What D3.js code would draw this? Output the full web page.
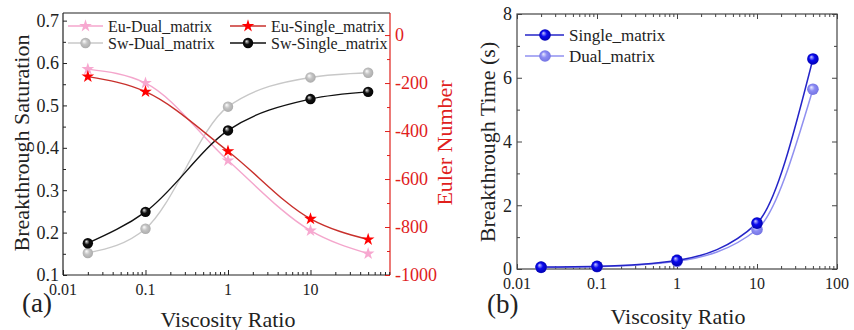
<!DOCTYPE html>
<html>
<head>
<meta charset="utf-8">
<script src="https://cdn.jsdelivr.net/npm/d3@7/dist/d3.min.js"></script>
<style>
html,body{margin:0;padding:0;background:#fff;}
svg{display:block;font-family:"Liberation Serif","Times New Roman",serif;}
</style>
</head>
<body>
<svg id="chart" width="854" height="330"></svg>
<script>
// ---------------- data ----------------
const viscosityRatio = [0.02, 0.1, 1, 10, 50];
const euDual   = [-142, -200, -523, -815, -911];
const euSingle = [-173, -236, -484, -766, -852];
const swDual   = [0.152, 0.209, 0.497, 0.566, 0.577];
const swSingle = [0.175, 0.249, 0.441, 0.515, 0.532];
const timeSingle = [0.06, 0.085, 0.27, 1.44, 6.59];
const timeDual   = [0.05, 0.07, 0.24, 1.24, 5.64];

const xTicksA = [0.01, 0.1, 1, 10];
const xTickLabelsA = ["0.01", "0.1", "1", "10"];
const xTicksB = [0.01, 0.1, 1, 10, 100];
const xTickLabelsB = ["0.01", "0.1", "1", "10", "100"];
const satTicks = [0.1, 0.2, 0.3, 0.4, 0.5, 0.6, 0.7];
const eulerTicks = [-1000, -800, -600, -400, -200, 0];
const timeTicks = [0, 2, 4, 6, 8];

const svg = d3.select("#chart");
const defs = svg.append("defs");

function sphere(id, hi, mid, lo) {
  const g = defs.append("radialGradient").attr("id", id)
    .attr("cx", "50%").attr("cy", "50%").attr("r", "55%")
    .attr("fx", "35%").attr("fy", "32%");
  g.append("stop").attr("offset", "0%").attr("stop-color", hi);
  g.append("stop").attr("offset", "45%").attr("stop-color", mid);
  g.append("stop").attr("offset", "100%").attr("stop-color", lo);
}
sphere("gBlack", "#e8e8e8", "#111", "#000");
sphere("gGray", "#ffffff", "#c4c4c4", "#a8a8a8");
sphere("gBlue", "#c8c8ff", "#0a0aee", "#0000a8");
sphere("gLBlue", "#eeeeff", "#8c8cf4", "#7070e0");

const minorLog = (lo, hi) => {
  const out = [];
  for (let e = Math.floor(Math.log10(lo)); e <= Math.ceil(Math.log10(hi)); e++)
    for (let m = 2; m <= 9; m++) { const v = m * Math.pow(10, e); if (v > lo && v < hi) out.push(v); }
  return out;
};

// =============== Panel (a) ===============
const A = {l: 63, r: 390, t: 13, b: 275};
const xA = d3.scaleLog().domain([0.01, 92]).range([A.l, A.r]);
const ySat = d3.scaleLinear().domain([0.1, 0.718]).range([A.b, A.t]);
const yEu = d3.scaleLinear().domain([-1000, 92]).range([A.b, A.t]);
const red = "#e0201c";
const axisCol = "#222";

const ga = svg.append("g");
// frame
ga.append("line").attr("x1", A.l).attr("x2", A.r).attr("y1", A.t).attr("y2", A.t).attr("stroke", axisCol).attr("stroke-width", 1.2);
ga.append("line").attr("x1", A.l).attr("x2", A.l).attr("y1", A.t).attr("y2", A.b).attr("stroke", axisCol).attr("stroke-width", 1.2);
ga.append("line").attr("x1", A.l).attr("x2", A.r).attr("y1", A.b).attr("y2", A.b).attr("stroke", axisCol).attr("stroke-width", 1.2);
ga.append("line").attr("x1", A.r).attr("x2", A.r).attr("y1", A.t).attr("y2", A.b).attr("stroke", red).attr("stroke-width", 1.2);

// bottom axis (inward ticks)
const axBA = d3.axisTop(xA).tickValues(xTicksA).tickFormat("").tickSize(5).tickSizeOuter(0);
const gba = ga.append("g").attr("transform", `translate(0,${A.b})`).call(axBA);
gba.select(".domain").remove();
gba.selectAll("line").attr("stroke", axisCol);
const axBAm = d3.axisTop(xA).tickValues(minorLog(0.01, 92)).tickFormat("").tickSize(3).tickSizeOuter(0);
const gbam = ga.append("g").attr("transform", `translate(0,${A.b})`).call(axBAm);
gbam.select(".domain").remove();
gbam.selectAll("line").attr("stroke", axisCol);
ga.append("g").selectAll("text").data(xTicksA).join("text")
  .attr("x", d => xA(d)).attr("y", A.b + 20).attr("text-anchor", "middle")
  .attr("font-size", 16).attr("fill", "#222").text((d, i) => xTickLabelsA[i]);

// left axis
const axLA = d3.axisRight(ySat).tickValues(satTicks).tickFormat("").tickSize(4).tickSizeOuter(0);
const gla = ga.append("g").attr("transform", `translate(${A.l},0)`).call(axLA);
gla.select(".domain").remove();
gla.selectAll("line").attr("stroke", axisCol);
const axLAm = d3.axisRight(ySat).tickValues(d3.range(0.15, 0.7, 0.1)).tickFormat("").tickSize(3).tickSizeOuter(0);
const glam = ga.append("g").attr("transform", `translate(${A.l},0)`).call(axLAm);
glam.select(".domain").remove();
glam.selectAll("line").attr("stroke", axisCol);
ga.append("g").selectAll("text").data(satTicks).join("text")
  .attr("x", A.l - 4).attr("y", d => ySat(d)).attr("dy", "0.35em").attr("text-anchor", "end")
  .attr("font-size", 18).attr("fill", "#222").text(d => d3.format(".1f")(d));

// right axis (red)
const axRA = d3.axisLeft(yEu).tickValues(eulerTicks).tickFormat("").tickSize(5).tickSizeOuter(0);
const gra = ga.append("g").attr("transform", `translate(${A.r},0)`).call(axRA);
gra.select(".domain").remove();
gra.selectAll("line").attr("stroke", red);
const axRAm = d3.axisLeft(yEu).tickValues(d3.range(-900, 100, 200)).tickFormat("").tickSize(3).tickSizeOuter(0);
const gram = ga.append("g").attr("transform", `translate(${A.r},0)`).call(axRAm);
gram.select(".domain").remove();
gram.selectAll("line").attr("stroke", red);
ga.append("g").selectAll("text").data(eulerTicks).join("text")
  .attr("x", A.r + 5).attr("y", d => yEu(d)).attr("dy", "0.35em").attr("text-anchor", "start")
  .attr("font-size", 18).attr("fill", red).text(d => d < 0 ? "-" + Math.abs(d) : String(d));

// lines
const seriesA = [
  {name: "Sw-Dual_matrix", vals: swDual, y: ySat, line: "#c8c8c8", marker: "circle", fill: "url(#gGray)"},
  {name: "Eu-Dual_matrix", vals: euDual, y: yEu, line: "#f4a6cc", marker: "star", fill: "#f7a8d0"},
  {name: "Sw-Single_matrix", vals: swSingle, y: ySat, line: "#111", marker: "circle", fill: "url(#gBlack)"},
  {name: "Eu-Single_matrix", vals: euSingle, y: yEu, line: "#c8302c", marker: "star", fill: "#ff0000"}
];
const starSym = d3.symbol().type(d3.symbolStar).size(50);
seriesA.forEach(s => {
  const pts = viscosityRatio.map((v, i) => [xA(v), s.y(s.vals[i])]);
  ga.append("path").attr("d", d3.line().curve(d3.curveMonotoneX)(pts))
    .attr("fill", "none").attr("stroke", s.line).attr("stroke-width", 1.4);
});
seriesA.forEach(s => {
  viscosityRatio.forEach((v, i) => {
    const x = xA(v), y = s.y(s.vals[i]);
    if (s.marker === "circle") ga.append("circle").attr("cx", x).attr("cy", y).attr("r", 5.2).attr("fill", s.fill);
    else ga.append("path").attr("d", starSym()).attr("transform", `translate(${x},${y})`).attr("fill", s.fill);
  });
});

// legend (a)
const legA = [
  {s: seriesA[1], lx: 68, tx: 108, y: 26},
  {s: seriesA[3], lx: 230, tx: 271, y: 26},
  {s: seriesA[0], lx: 68, tx: 108, y: 43},
  {s: seriesA[2], lx: 230, tx: 271, y: 43}
];
legA.forEach(d => {
  const w = d.tx - d.lx - 5;
  ga.append("line").attr("x1", d.lx).attr("x2", d.lx + w).attr("y1", d.y).attr("y2", d.y)
    .attr("stroke", d.s.line).attr("stroke-width", 1.4);
  const cx = d.lx + w / 2;
  if (d.s.marker === "circle") ga.append("circle").attr("cx", cx).attr("cy", d.y).attr("r", 5.2).attr("fill", d.s.fill);
  else ga.append("path").attr("d", starSym()).attr("transform", `translate(${cx},${d.y})`).attr("fill", d.s.fill);
  ga.append("text").attr("x", d.tx).attr("y", d.y).attr("dy", "0.35em").attr("font-size", 16)
    .attr("fill", "#222").text(d.s.name);
});

// titles (a)
ga.append("text").attr("transform", "translate(29,143) rotate(-90)").attr("text-anchor", "middle")
  .attr("font-size", 22).attr("fill", "#222").text("Breakthrough Saturation");
ga.append("text").attr("transform", "translate(452,143) rotate(-90)").attr("text-anchor", "middle")
  .attr("font-size", 22).attr("fill", red).text("Euler Number");
ga.append("text").attr("x", 228).attr("y", 327).attr("text-anchor", "middle")
  .attr("font-size", 22).attr("fill", "#222").text("Viscosity Ratio");
ga.append("text").attr("x", 22).attr("y", 312).attr("font-size", 27).attr("fill", "#222").text("(a)");

// =============== Panel (b) ===============
const B = {l: 517, r: 837, t: 14, b: 269};
const xB = d3.scaleLog().domain([0.01, 100]).range([B.l, B.r]);
const yT = d3.scaleLinear().domain([0, 8]).range([B.b, B.t]);
const gb = svg.append("g");
const frameCol = "#444";
gb.append("rect").attr("x", B.l).attr("y", B.t).attr("width", B.r - B.l).attr("height", B.b - B.t)
  .attr("fill", "none").attr("stroke", frameCol).attr("stroke-width", 1.2);

function ticksB(axisGen, tr) {
  const g = gb.append("g").attr("transform", tr).call(axisGen);
  g.select(".domain").remove();
  g.selectAll("line").attr("stroke", frameCol);
}
const minB = minorLog(0.01, 100);
ticksB(d3.axisTop(xB).tickValues(xTicksB).tickFormat("").tickSize(5).tickSizeOuter(0), `translate(0,${B.b})`);
ticksB(d3.axisTop(xB).tickValues(minB).tickFormat("").tickSize(3).tickSizeOuter(0), `translate(0,${B.b})`);
ticksB(d3.axisBottom(xB).tickValues(xTicksB).tickFormat("").tickSize(5).tickSizeOuter(0), `translate(0,${B.t})`);
ticksB(d3.axisBottom(xB).tickValues(minB).tickFormat("").tickSize(3).tickSizeOuter(0), `translate(0,${B.t})`);
ticksB(d3.axisRight(yT).tickValues(timeTicks).tickFormat("").tickSize(5).tickSizeOuter(0), `translate(${B.l},0)`);
ticksB(d3.axisRight(yT).tickValues([1, 3, 5, 7]).tickFormat("").tickSize(3).tickSizeOuter(0), `translate(${B.l},0)`);
ticksB(d3.axisLeft(yT).tickValues(timeTicks).tickFormat("").tickSize(5).tickSizeOuter(0), `translate(${B.r},0)`);
ticksB(d3.axisLeft(yT).tickValues([1, 3, 5, 7]).tickFormat("").tickSize(3).tickSizeOuter(0), `translate(${B.r},0)`);

gb.append("g").selectAll("text").data(xTicksB).join("text")
  .attr("x", d => xB(d)).attr("y", B.b + 20).attr("text-anchor", "middle")
  .attr("font-size", 16).attr("fill", "#222").text((d, i) => xTickLabelsB[i]);
gb.append("g").selectAll("text").data(timeTicks).join("text")
  .attr("x", B.l - 5).attr("y", d => yT(d)).attr("dy", "0.35em").attr("text-anchor", "end")
  .attr("font-size", 18).attr("fill", "#222").text(d => d);

const seriesB = [
  {name: "Dual_matrix", vals: timeDual, line: "#9090f0", fill: "url(#gLBlue)"},
  {name: "Single_matrix", vals: timeSingle, line: "#2424c8", fill: "url(#gBlue)"}
];
seriesB.forEach(s => {
  const pts = viscosityRatio.map((v, i) => [xB(v), yT(s.vals[i])]);
  gb.append("path").attr("d", d3.line().curve(d3.curveMonotoneX)(pts))
    .attr("fill", "none").attr("stroke", s.line).attr("stroke-width", 1.5);
});
seriesB.forEach(s => {
  viscosityRatio.forEach((v, i) => {
    gb.append("circle").attr("cx", xB(v)).attr("cy", yT(s.vals[i])).attr("r", 5.8).attr("fill", s.fill);
  });
});
// legend (b)
[{s: seriesB[1], y: 35}, {s: seriesB[0], y: 56}].forEach(d => {
  gb.append("line").attr("x1", 525).attr("x2", 564).attr("y1", d.y).attr("y2", d.y)
    .attr("stroke", d.s.line).attr("stroke-width", 1.5);
  gb.append("circle").attr("cx", 545).attr("cy", d.y).attr("r", 5.8).attr("fill", d.s.fill);
  gb.append("text").attr("x", 569).attr("y", d.y).attr("dy", "0.35em").attr("font-size", 17)
    .attr("fill", "#222").text(d.s.name);
});

gb.append("text").attr("transform", "translate(495,142) rotate(-90)").attr("text-anchor", "middle")
  .attr("font-size", 22).attr("fill", "#222").text("Breakthrough Time (s)");
gb.append("text").attr("x", 678).attr("y", 324).attr("text-anchor", "middle")
  .attr("font-size", 22).attr("fill", "#222").text("Viscosity Ratio");
gb.append("text").attr("x", 487).attr("y", 313).attr("font-size", 27).attr("fill", "#222").text("(b)");
</script>
</body>
</html>
